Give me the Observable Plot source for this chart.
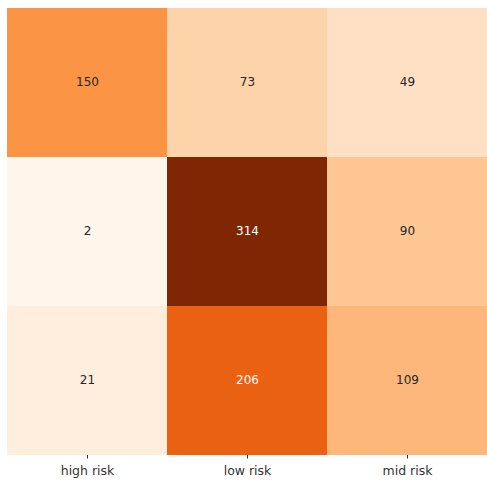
<!DOCTYPE html>
<html>
<head>
<meta charset="utf-8">
<script src="https://cdn.jsdelivr.net/npm/d3@7"></script>
<script src="https://cdn.jsdelivr.net/npm/@observablehq/plot@0.6"></script>
<style>
  html, body { margin: 0; padding: 0; background: #fff; }
  #chart { width: 487px; height: 483px; }
</style>
</head>
<body>
<div id="chart"></div>
<script>
// Class labels (actual rows, predicted columns)
const classes = ["high risk", "low risk", "mid risk"];
// Confusion-matrix counts, one array per actual class
const highRiskRow = [150, 73, 49];
const lowRiskRow = [2, 314, 90];
const midRiskRow = [21, 206, 109];

const rows = [highRiskRow, lowRiskRow, midRiskRow];
const cells = [];
rows.forEach((row, i) => row.forEach((v, j) => cells.push({actual: classes[i], predicted: classes[j], count: v})));

const vmin = d3.min(cells, d => d.count);
const vmax = d3.max(cells, d => d.count);

const chart = Plot.plot({
  width: 487,
  height: 483,
  marginLeft: 7,
  marginTop: 7,
  marginRight: 0,
  marginBottom: 28,
  style: {fontFamily: "DejaVu Sans, sans-serif", fontSize: "12px", background: "#fff"},
  x: {domain: classes, padding: 0, label: null},
  y: {domain: classes, padding: 0, axis: null},
  color: {type: "linear", scheme: "oranges", domain: [vmin, vmax]},
  marks: [
    Plot.cell(cells, {x: "predicted", y: "actual", fill: "count", inset: 0}),
    Plot.text(cells, {
      x: "predicted", y: "actual", text: d => String(d.count),
      fill: d => (d.count - vmin) / (vmax - vmin) > 0.6 ? "#ffffff" : "#262626",
      fontSize: 12, dy: -1
    }),
    Plot.axisX({tickSize: 3.5, tickPadding: 7, fontSize: 12.5, color: "#333", label: null})
  ]
});
document.getElementById("chart").appendChild(chart);
</script>
</body>
</html>
